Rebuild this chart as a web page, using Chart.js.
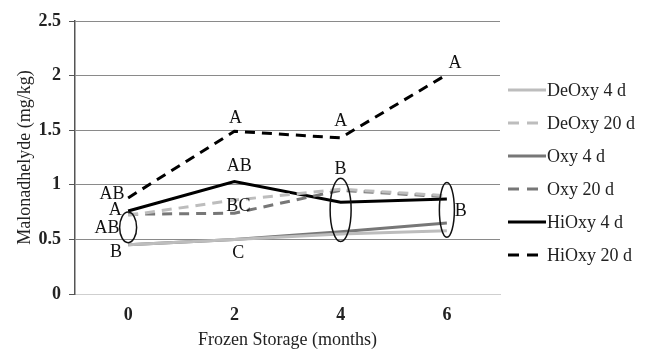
<!DOCTYPE html>
<html><head><meta charset="utf-8">
<script src="https://cdn.jsdelivr.net/npm/chart.js@4/dist/chart.umd.min.js"></script>
<style>html,body{margin:0;padding:0;background:#fff}#wrap{width:646px;height:349px}</style>
</head><body><div id="wrap"><canvas id="c" width="646" height="349"></canvas></div>
<script>
const categories = ['0','2','4','6'];
const deoxy4 = [0.45, 0.50, 0.55, 0.58];
const deoxy20 = [0.72, 0.86, 0.96, 0.90];
const oxy4 = [0.45, 0.50, 0.57, 0.65];
const oxy20 = [0.73, 0.74, 0.95, 0.89];
const hioxy4 = [0.76, 1.03, 0.84, 0.87];
const hioxy20 = [0.88, 1.49, 1.43, 2.01];
const letters = [
  {i:0, v:0.91, t:'AB', dx:-16}, {i:0, v:0.77, t:'A', dx:-13}, {i:0, v:0.60, t:'AB', dx:-21}, {i:0, v:0.385, t:'B', dx:-12},
  {i:1, v:1.61, t:'A', dx:1}, {i:1, v:1.17, t:'AB', dx:5}, {i:1, v:0.80, t:'BC', dx:4}, {i:1, v:0.37, t:'C', dx:4},
  {i:2, v:1.58, t:'A', dx:0}, {i:2, v:1.145, t:'B', dx:0},
  {i:3, v:2.115, t:'A', dx:8}, {i:3, v:0.76, t:'B', dx:14}
];
const ellipses = [
  {i:0, lo:0.47, hi:0.75, rx:8.5},
  {i:2, lo:0.48, hi:1.06, rx:10.5},
  {i:3, lo:0.52, hi:1.02, rx:7.5}
];
const serif = "'Liberation Serif', 'Times New Roman', serif";
function ds(label, data, color, dash){
  return {label, data, borderColor:color, backgroundColor:color, borderWidth:3, borderDash:dash, pointRadius:0, tension:0, fill:false};
}
const annot = {
  id:'annot',
  afterDatasetsDraw(chart){
    const ctx = chart.ctx, xs = chart.scales.x, ys = chart.scales.y;
    ctx.save();
    ctx.strokeStyle = '#111'; ctx.lineWidth = 1.5; ctx.setLineDash([]);
    ellipses.forEach(e=>{
      const cx = xs.getPixelForValue(e.i);
      const y1 = ys.getPixelForValue(e.hi), y2 = ys.getPixelForValue(e.lo);
      ctx.beginPath();
      ctx.ellipse(cx, (y1+y2)/2, e.rx, Math.abs(y2-y1)/2, 0, 0, Math.PI*2);
      ctx.stroke();
    });
    ctx.fillStyle = '#111'; ctx.font = '18px ' + serif; ctx.textAlign = 'center'; ctx.textBaseline = 'middle';
    letters.forEach(l=>{
      ctx.fillText(l.t, xs.getPixelForValue(l.i) + l.dx, ys.getPixelForValue(l.v));
    });
    // legend
    const y0 = 90, step = 33;
    chart.data.datasets.forEach((d, k)=>{
      const y = y0 + k*step;
      ctx.strokeStyle = d.borderColor; ctx.lineWidth = 3;
      ctx.setLineDash(d.borderDash && d.borderDash.length ? [11,8] : []);
      ctx.beginPath(); ctx.moveTo(508, y); ctx.lineTo(546, y); ctx.stroke();
      ctx.setLineDash([]);
      ctx.fillStyle = '#222'; ctx.textAlign = 'left'; ctx.font = '18px ' + serif;
      ctx.fillText(d.label, 547, y + 1);
    });
    ctx.restore();
  }
};
new Chart(document.getElementById('c'), {
  type:'line',
  data:{labels:categories, datasets:[
    ds('DeOxy 4 d', deoxy4, '#bdbdbd', []),
    ds('DeOxy 20 d', deoxy20, '#bdbdbd', [10,7]),
    ds('Oxy 4 d', oxy4, '#777777', []),
    ds('Oxy 20 d', oxy20, '#777777', [10,7]),
    ds('HiOxy 4 d', hioxy4, '#000000', []),
    ds('HiOxy 20 d', hioxy20, '#000000', [10,7])
  ]},
  options:{
    responsive:false, animation:false, devicePixelRatio:1,
    layout:{padding:{top:21, right:146, left:0, bottom:0}},
    plugins:{legend:{display:false}, tooltip:{enabled:false}},
    scales:{
      x:{offset:true,
        grid:{display:false, drawTicks:false},
        border:{color:'#cfcfcf', width:1},
        ticks:{color:'#222', font:{family:serif, size:18, weight:'bold'}, padding:11},
        title:{display:true, text:'Frozen Storage (months)', color:'#222', font:{family:serif, size:18}, padding:{top:0,bottom:-2}},
        afterFit(s){ s.height = 55; }
      },
      y:{min:0, max:2.5,
        grid:{color:'#8a8a8a', lineWidth:1, drawTicks:true, tickLength:6, tickColor:'#555'},
        border:{color:'#555', width:1.5},
        ticks:{stepSize:0.5, color:'#222', font:{family:serif, size:18, weight:'bold'}, padding:8,
          callback:(v)=>String(v)},
        title:{display:true, text:'Malonadhelyde (mg/kg)', color:'#222', font:{family:serif, size:18}, padding:{top:14,bottom:0}},
        afterFit(s){ s.width = 75; }
      }
    }
  },
  plugins:[annot]
});
</script></body></html>
